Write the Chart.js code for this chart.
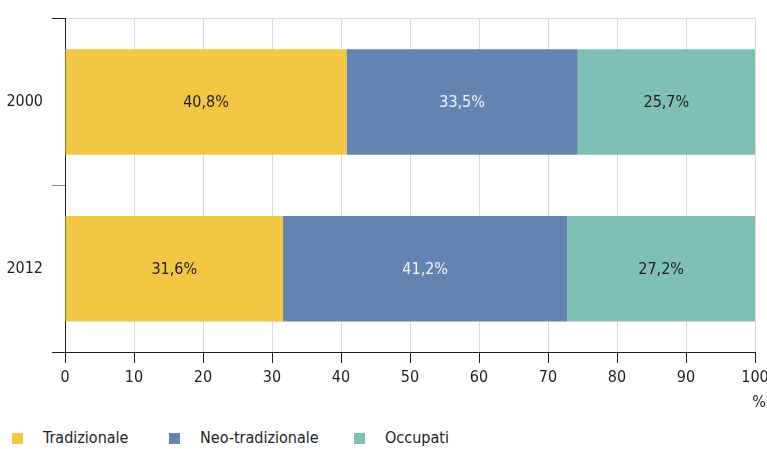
<!DOCTYPE html>
<html lang="it">
<head>
<meta charset="UTF-8">
<title>Tipologie familiari 2000-2012</title>
<script src="https://cdn.jsdelivr.net/npm/chart.js"></script>
<style>
    html, body { margin: 0; padding: 0; background: #fff; }
    body { width: 767px; height: 449px; position: relative; overflow: hidden;
           font-family: 'Liberation Sans Narrow', 'DejaVu Sans Condensed', sans-serif; }
    .chart-box { position: absolute; left: 0; top: 0; width: 767px; height: 415px; }
    .legend { position: absolute; left: 12px; top: 428px; display: flex; align-items: center;
              font-size: 16px; color: #222; }
    .legend .item { display: flex; align-items: center; white-space: nowrap; }
    .legend .item:nth-child(1) { width: 157px; }
    .legend .item:nth-child(2) { width: 185px; }
    .legend span.box { display: inline-block; width: 11px; height: 11px; margin-right: 20px; }
    .legend span.txt { line-height: 20px; }
</style>
</head>
<body>
<div class="chart-box"><canvas id="stackChart" width="767" height="415"></canvas></div>
<div class="legend" id="legend"></div>

<script>
    const anni = ['2000', '2012'];
    const serie = ['Tradizionale', 'Neo-tradizionale', 'Occupati'];
    const tradizionale = [40.8, 31.6];
    const neoTradizionale = [33.5, 41.2];
    const occupati = [25.7, 27.2];
    const xTicks = [0, 10, 20, 30, 40, 50, 60, 70, 80, 90, 100];

    const colori = ['#F2C744', '#6384B0', '#80BFB5'];
    const coloriTesto = ['#1e1e1e', '#f2f4f8', '#1e1e1e'];
    const FONT = "'Liberation Sans Narrow', 'DejaVu Sans Condensed', sans-serif";
    const FSIZE = 16;

    const fmt = v => v.toFixed(1).replace('.', ',') + '%';

    // etichette percentuali al centro di ogni segmento
    const segmentLabels = {
        id: 'segmentLabels',
        afterDatasetsDraw(chart) {
            const { ctx } = chart;
            ctx.save();
            ctx.font = FSIZE + 'px ' + FONT;
            ctx.textAlign = 'center';
            ctx.textBaseline = 'middle';
            chart.data.datasets.forEach((ds, i) => {
                chart.getDatasetMeta(i).data.forEach((bar, j) => {
                    const p = bar.getProps(['x', 'y', 'base'], true);
                    ctx.fillStyle = coloriTesto[i];
                    ctx.fillText(fmt(ds.data[j]), (p.x + p.base) / 2, p.y + 1);
                });
            });
            ctx.restore();
        }
    };

    // simbolo % sotto l'ultima etichetta dell'asse
    const unitLabel = {
        id: 'unitLabel',
        afterDraw(chart) {
            const { ctx, scales: { x } } = chart;
            ctx.save();
            ctx.font = FSIZE + 'px ' + FONT;
            ctx.fillStyle = '#1e1e1e';
            ctx.textAlign = 'center';
            ctx.textBaseline = 'middle';
            ctx.fillText('%', x.getPixelForValue(100) + 4, 403);
            ctx.restore();
        }
    };

    const datasets = [tradizionale, neoTradizionale, occupati].map((d, i) => ({
        label: serie[i],
        data: d,
        backgroundColor: colori[i],
        borderWidth: 0,
        barPercentage: 1,
        categoryPercentage: 0.633
    }));

    new Chart(document.getElementById('stackChart'), {
        type: 'bar',
        data: { labels: anni, datasets },
        options: {
            indexAxis: 'y',
            responsive: false,
            animation: false,
            layout: { padding: { top: 16, right: 0, left: 0, bottom: 0 } },
            plugins: { legend: { display: false }, tooltip: { enabled: false } },
            scales: {
                x: {
                    stacked: true,
                    min: 0, max: 100,
                    afterBuildTicks: s => { s.ticks = xTicks.map(v => ({ value: v })); },
                    afterFit: s => { s.height = 63; s.paddingRight = 12; s.paddingLeft = 0; },
                    grid: { color: '#dadada', lineWidth: 1, tickLength: 11, tickColor: '#1e1e1e' },
                    border: { display: true, color: '#1e1e1e', width: 1 },
                    ticks: { color: '#1e1e1e', padding: 5, font: { family: FONT, size: FSIZE }, maxRotation: 0 }
                },
                y: {
                    stacked: true,
                    afterFit: s => { s.width = 65; },
                    grid: {
                        offset: true,
                        tickLength: 13,
                        color: c => c.index === 0 ? '#dadada' : 'rgba(0,0,0,0)',
                        tickColor: c => c.index === 1 ? '#8a8a8a' : '#1e1e1e'
                    },
                    border: { display: true, color: '#1e1e1e', width: 1 },
                    ticks: { color: '#1e1e1e', padding: 9, font: { family: FONT, size: FSIZE } }
                }
            }
        },
        plugins: [segmentLabels, unitLabel]
    });

    // legenda sotto il grafico
    const legend = document.getElementById('legend');
    serie.forEach((nome, i) => {
        const item = document.createElement('div');
        item.className = 'item';
        const box = document.createElement('span');
        box.className = 'box';
        box.style.background = colori[i];
        const txt = document.createElement('span');
        txt.className = 'txt';
        txt.textContent = nome;
        item.appendChild(box);
        item.appendChild(txt);
        legend.appendChild(item);
    });
</script>
</body>
</html>
